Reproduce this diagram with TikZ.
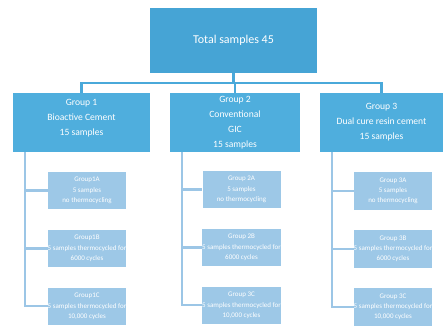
\documentclass[tikz,border=0pt]{standalone}
\usepackage{fontspec}
\setmainfont{Carlito}
\usetikzlibrary{positioning, calc}
\definecolor{topblue}{HTML}{46A4D5}
\definecolor{grpblue}{HTML}{4FAEDD}
\definecolor{subblue}{HTML}{9DC8E7}
\definecolor{linkblue}{HTML}{4AA9DA}
\definecolor{twigblue}{HTML}{9CC6E6}

\begin{document}
\begin{tikzpicture}[
  x=1pt, y=-1pt, text=white,
  tot/.style={fill=topblue, minimum width=167pt, minimum height=65pt, inner sep=0pt, font=\fontsize{12}{14}\selectfont},
  grp/.style={fill=grpblue, align=center, minimum height=59pt, inner sep=0pt, font=\fontsize{9.6}{15}\selectfont},
  sub/.style={fill=subblue, align=center, minimum width=78pt, minimum height=37.5pt, inner sep=0pt, font=\fontsize{7}{10.2}\selectfont},
  link/.style={draw=linkblue, line width=2.2pt},
  twig/.style={draw=twigblue, line width=2.2pt},
]
  \useasboundingbox (0,0) rectangle (444,325);

  \node[tot] (total) at (233.5,40.5) {Total samples 45};

  \node[grp, minimum width=137pt] (g1) at (81.5,122.5) {Group 1\\Bioactive Cement\\15 samples\\[-4pt]};
  \node[grp, minimum width=130pt] (g2) at (235,122.5) {Group 2\\Conventional\\GIC\\15 samples};
  \node[grp, minimum width=123pt] (g3) at (381.5,122.5) {Group 3\\Dual cure resin cement\\15 samples};

  % group 1
  \node[sub] (s1a) at (87,190.5) {Group1A\\5 samples\\no thermocycling};
  \node[sub, below=20pt of s1a] (s1b) {Group1B\\5 samples thermocycled for\\6000 cycles};
  \node[sub, below=20pt of s1b] (s1c) {Group1C\\5 samples thermocycled for\\10,000 cycles};
  % group 2
  \node[sub] (s2a) at (241.5,189.5) {Group 2A\\5 samples\\no thermocycling};
  \node[sub, below=20pt of s2a] (s2b) {Group 2B\\5 samples thermocycled for\\6000 cycles};
  \node[sub, below=20pt of s2b] (s2c) {Group 3C\\5 samples thermocycled for\\10,000 cycles};
  % group 3
  \node[sub] (s3a) at (393,191) {Group 3A\\5 samples\\no thermocycling};
  \node[sub, below=20pt of s3a] (s3b) {Group 3B\\5 samples thermocycled for\\6000 cycles};
  \node[sub, below=20pt of s3b] (s3c) {Group 3C\\5 samples thermocycled for\\10,000 cycles};

  % top level links
  \coordinate (bus) at ($(total.south)+(0,10)$);
  \draw[link] (total.south) -- (bus);
  \draw[link] (g1.north) |- (bus) -| (g3.north);
  \draw[link] (g2.north) -- (g2.north |- bus);

  % links to subgroups
  \foreach \g in {1,2,3} {
    \coordinate (t\g) at ($(g\g.south west)+(12.5,0)$);
    \draw[twig] (t\g) |- (s\g c.west);
    \draw[twig] (t\g |- s\g a.west) -- (s\g a.west);
    \draw[twig] (t\g |- s\g b.west) -- (s\g b.west);
  }
\end{tikzpicture}
\end{document}
